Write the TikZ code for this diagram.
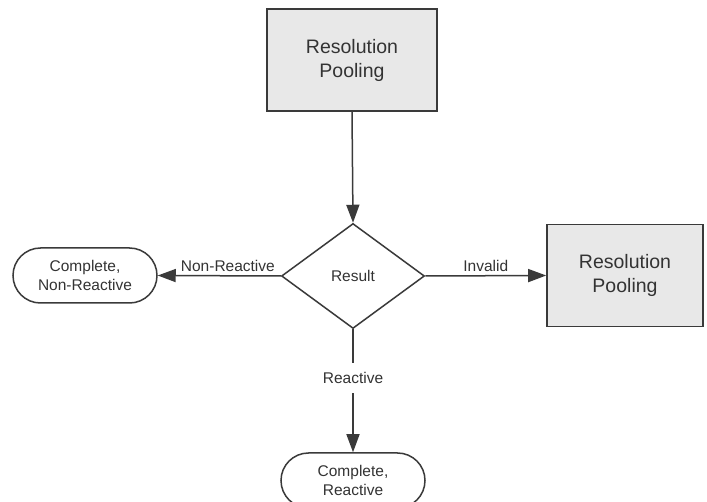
\documentclass[tikz,border=0pt]{standalone}
\usepackage{fontspec}
\setmainfont{Liberation Sans}
\usetikzlibrary{shapes.geometric,arrows.meta}
\definecolor{linegray}{HTML}{3A3A3A}
\definecolor{boxfill}{HTML}{E8E8E8}
\definecolor{txt}{HTML}{333333}
\tikzset{
  x=1pt, y=1pt,
  every node/.style={text=txt, font=\fontsize{15.5}{19}\selectfont, align=center},
  procbox/.style={draw=linegray, line width=1.6pt, fill=boxfill, inner sep=0pt,
    minimum width=170pt, minimum height=102pt, font=\fontsize{19.5}{24}\selectfont},
  decision/.style={draw=linegray, line width=1.5pt, diamond, fill=white, inner sep=0pt,
    minimum width=143pt, minimum height=105pt},
  terminal/.style={draw=linegray, line width=1.5pt, rounded corners=27.5pt, inner sep=0pt,
    minimum width=144pt, minimum height=55pt, fill=white},
  flow/.style={draw=linegray, line width=1.5pt, -{Triangle[length=18pt,width=13pt]}},
  edgelabel/.style={fill=white, inner sep=2pt}
}
\begin{document}
\begin{tikzpicture}
\useasboundingbox (0,0) rectangle (707,-502);
\node[procbox] (top) at (352,-60) {Resolution\\Pooling};
\node[decision] (res) at (353,-276) {Result};
\node[terminal] (nonr) at (85,-275.5) {Complete,\\Non-Reactive};
\node[procbox, minimum width=156pt] (right) at (625,-275.5) {Resolution\\Pooling};
\node[terminal] (reac) at (353,-480.5) {Complete,\\Reactive};
\draw[flow] (top.south) -- (res.north);
\draw[flow] (res.west) -- node[pos=0.43, above=2pt, inner sep=1pt] {Non-Reactive} (nonr.east);
\draw[flow] (res.east) -- node[above=2pt, inner sep=1pt] {Invalid} (right.west);
\coordinate (lab) at (353,-378);
\draw[flow] (res.south) -- (reac.north);
\node[edgelabel, minimum height=30pt] (rlab) at (lab) {Reactive};
\end{tikzpicture}
\end{document}
